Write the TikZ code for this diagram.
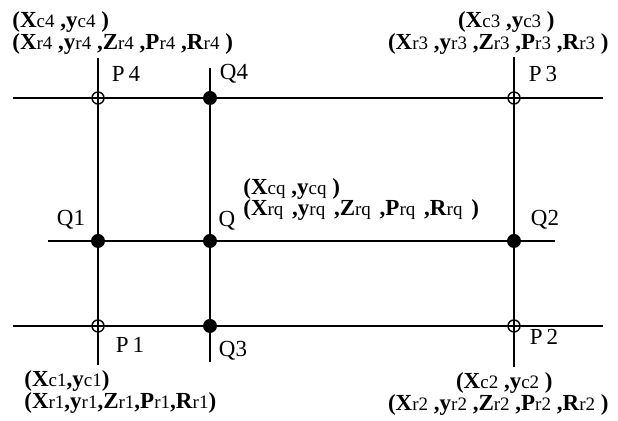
\documentclass[tikz,border=0pt]{standalone}
\usepackage{fontspec}
\setmainfont{Liberation Serif}
\newcommand{\crd}[2]{\textbf{#1}{\mdseries\fontsize{9.5}{11}\selectfont#2}}
\begin{document}
\begin{tikzpicture}[x=0.5pt,y=-0.5pt,
  grid/.style={line width=0.7pt},
  pring/.style={circle,draw,line width=0.7pt,inner sep=0pt,minimum size=6pt},
  qdot/.style={circle,fill,inner sep=0pt,minimum size=7pt},
  lbl/.style={inner sep=0pt,font=\fontsize{11.5}{13}\selectfont},
  coords/.style={inner sep=0pt,anchor=base west,font=\fontsize{11.5}{13}\selectfont\bfseries}]
\useasboundingbox (0,0) rectangle (618,421);
% line ends
\coordinate (tl) at (13,98);
\coordinate (tr) at (603,98);
\coordinate (ml) at (48,241);
\coordinate (mr) at (555,241);
\coordinate (bl) at (13,326);
\coordinate (br) at (603,326);
\coordinate (v1t) at (98,58);
\coordinate (v1b) at (98,365);
\coordinate (v2t) at (210,68);
\coordinate (v2b) at (210,362);
\coordinate (v3t) at (514,57);
\coordinate (v3b) at (514,367);
\draw[grid] (tl) -- (tr);
\draw[grid] (ml) -- (mr);
\draw[grid] (bl) -- (br);
\draw[grid] (v1t) -- (v1b);
\draw[grid] (v2t) -- (v2b);
\draw[grid] (v3t) -- (v3b);
% grid points
\node[pring] (P4) at (98,98) {};
\node[qdot] (Q4) at (210,98) {};
\node[pring] (P3) at (514,98) {};
\node[qdot] (Q1) at (98,241) {};
\node[qdot] (Q) at (210,241) {};
\node[qdot] (Q2) at (514,241) {};
\node[pring] (P1) at (98,326) {};
\node[qdot] (Q3) at (210,326) {};
\node[pring] (P2) at (514,326) {};
% point names
\node[lbl] (lP4) at (126,74) {P\,4};
\node[lbl] (lQ4) at (234,74) {Q4};
\node[lbl] (lP3) at (543,74) {P\,3};
\node[lbl] (lQ1) at (71,220) {Q1};
\node[lbl] (lQ) at (227,221) {Q};
\node[lbl] (lQ2) at (545,220) {Q2};
\node[lbl] (lP1) at (130,345) {P\,1};
\node[lbl] (lQ3) at (233,351) {Q3};
\node[lbl] (lP2) at (544,337) {P\,2};
% coordinates
\node[coords] (c4) at (12,28) {(\crd{X}{c4} ,\crd{y}{c4} )};
\node[coords] (r4) at (12,50) {(\crd{X}{r4} ,\crd{y}{r4} ,\crd{Z}{r4} ,\crd{P}{r4} ,\crd{R}{r4} )};
\node[coords,anchor=base east] (c3) at (555,28) {(\crd{X}{c3} ,\crd{y}{c3} )};
\node[coords,anchor=base east] (r3) at (609,50) {(\crd{X}{r3} ,\crd{y}{r3} ,\crd{Z}{r3} ,\crd{P}{r3} ,\crd{R}{r3} )};
\node[coords] (cq) at (243,195) {(\crd{X}{cq} ,\crd{y}{cq} )};
\node[coords] (rq) at (243,216) {(\crd{X}{rq}\hspace{1.5pt} ,\crd{y}{rq}\hspace{1.5pt} ,\crd{Z}{rq}\hspace{1.5pt} ,\crd{P}{rq}\hspace{1.5pt} ,\crd{R}{rq}\hspace{1.5pt} )};
\node[coords] (c1) at (24,387) {(\crd{X}{c1},\crd{y}{c1})};
\node[coords] (r1) at (24,409) {(\crd{X}{r1},\crd{y}{r1},\crd{Z}{r1},\crd{P}{r1},\crd{R}{r1})};
\node[coords,anchor=base east] (c2) at (553,389) {(\crd{X}{c2} ,\crd{y}{c2} )};
\node[coords,anchor=base east] (r2) at (609,411) {(\crd{X}{r2} ,\crd{y}{r2} ,\crd{Z}{r2} ,\crd{P}{r2} ,\crd{R}{r2} )};
\end{tikzpicture}
\end{document}
